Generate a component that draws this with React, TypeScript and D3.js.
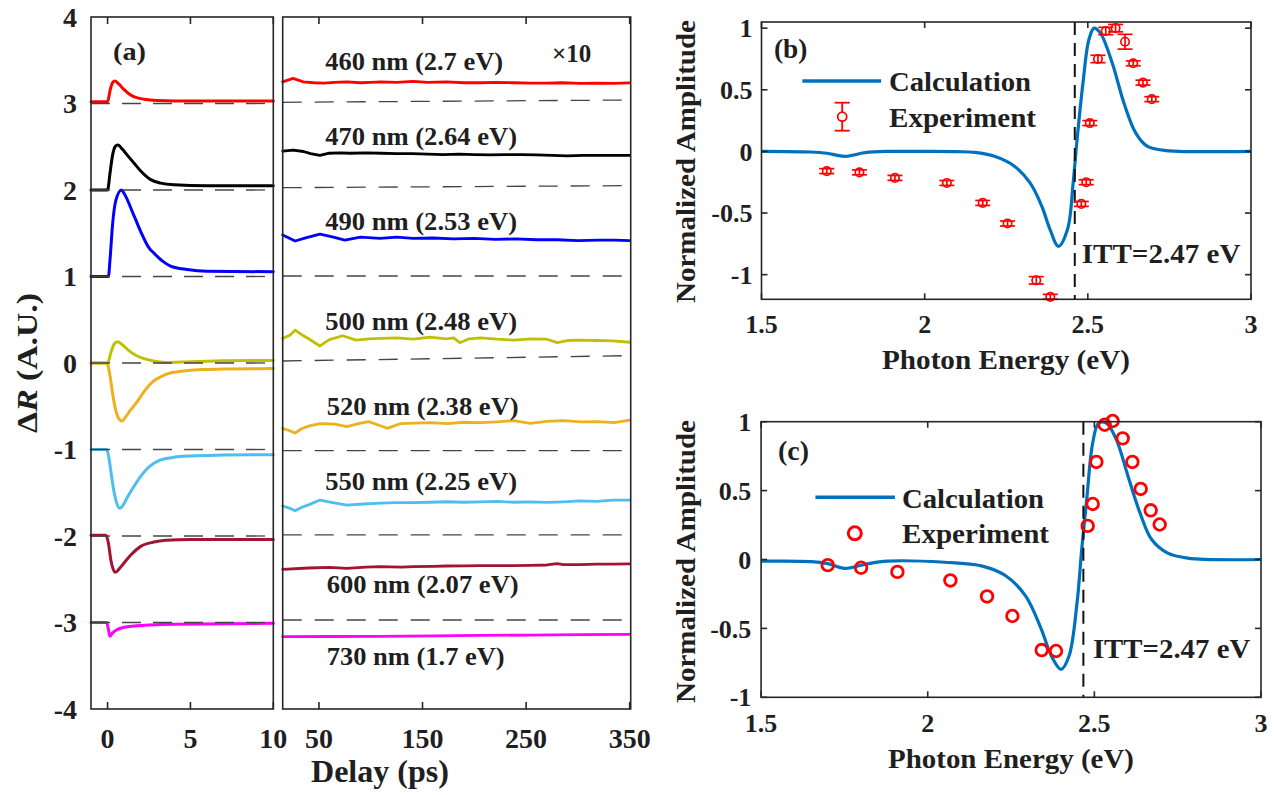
import React from "react";
import * as d3 from "d3";

const FONT = '"Liberation Serif", "Times New Roman", Times, serif';
const INK = "#1f1f1f";
const FRAME = "#262626";

// ---------------- Panel (a) data ----------------
const yTicksA = [4, 3, 2, 1, 0, -1, -2, -3, -4];
const leftTicks = [0, 5, 10];
const rightTicks = [50, 150, 250, 350];
const offsets = [3, 2, 1, 0, -1, -2, -3];
const traceLabels = [
  "460 nm (2.7 eV)",
  "470 nm (2.64 eV)",
  "490 nm (2.53 eV)",
  "500 nm (2.48 eV)",
  "520 nm (2.38 eV)",
  "550 nm (2.25 eV)",
  "600 nm (2.07 eV)",
  "730 nm (1.7 eV)",
];
// label anchor in data units of the right sub-axis (delay ps, ΔR)
const labelT = [56, 56, 56, 56, 57.5, 56, 57.5, 57.5];
const labelV = [3.387, 2.52, 1.538, 0.382, -0.601, -1.468, -2.659, -3.491];
const labelLen = [178, 192, 192, 192, 192, 192, 192, 178];

// left sub-axis traces (0-10 ps)
const tL460 = [-1, 0, 0.15, 0.3, 0.45, 0.7, 1.0, 1.3, 1.7, 2.2, 3, 4, 6, 10];
const vL460 = [3.02, 3.02, 3.15, 3.24, 3.26, 3.22, 3.16, 3.11, 3.07, 3.05, 3.035, 3.03, 3.03, 3.03];
const tL470 = [-1, 0, 0.15, 0.3, 0.45, 0.62, 0.9, 1.2, 1.6, 2.0, 2.6, 3.2, 4, 6, 10];
const vL470 = [2.0, 2.0, 2.2, 2.4, 2.5, 2.52, 2.47, 2.4, 2.31, 2.22, 2.12, 2.08, 2.06, 2.05, 2.05];
const tL490 = [-1, 0.05, 0.15, 0.3, 0.5, 0.84, 1.0, 1.6, 2.0, 2.5, 2.8, 3.3, 3.8, 4.8, 6, 10];
const vL490 = [1.0, 1.0, 1.2, 1.6, 1.88, 2.0, 1.96, 1.7, 1.52, 1.33, 1.27, 1.18, 1.12, 1.08, 1.06, 1.055];
const tL500 = [-1, 0, 0.2, 0.4, 0.6, 0.9, 1.3, 1.7, 2.2, 2.7, 3.5, 5, 7, 10];
const vL500 = [0, 0, 0.12, 0.22, 0.245, 0.21, 0.14, 0.09, 0.05, 0.025, 0.005, 0.015, 0.025, 0.03];
const tL520 = [-1, -0.05, 0.15, 0.3, 0.5, 0.7, 0.88, 1.1, 1.4, 1.7, 2.2, 2.7, 3.2, 3.7, 4.7, 5.7, 7, 10];
const vL520 = [0, 0, -0.15, -0.35, -0.55, -0.65, -0.67, -0.62, -0.54, -0.47, -0.33, -0.22, -0.16, -0.12, -0.09, -0.075, -0.07, -0.065];
const tL550 = [-1, -0.05, 0.1, 0.25, 0.4, 0.55, 0.74, 0.95, 1.2, 1.58, 2.0, 2.4, 2.8, 3.2, 4.0, 5, 7, 10];
const vL550 = [-1, -1, -1.12, -1.32, -1.5, -1.62, -1.68, -1.64, -1.55, -1.43, -1.31, -1.22, -1.16, -1.12, -1.09, -1.075, -1.065, -1.06];
const tL600 = [-1, -0.1, 0.05, 0.2, 0.35, 0.48, 0.7, 1.0, 1.4, 2.0, 2.8, 3.5, 5, 10];
const vL600 = [-1.99, -1.99, -2.08, -2.28, -2.39, -2.42, -2.38, -2.31, -2.22, -2.12, -2.07, -2.05, -2.04, -2.04];
const tL730 = [-1, -0.05, 0.05, 0.14, 0.3, 0.6, 1.0, 1.6, 2.5, 4, 10];
const vL730 = [-3.0, -3.0, -3.08, -3.16, -3.12, -3.08, -3.055, -3.04, -3.03, -3.02, -3.01];

// right sub-axis traces (x10, 15-350 ps)
const tR460 = [15, 20, 25, 30, 35, 45, 55, 65, 77, 90, 100, 110, 125, 141, 155, 173, 190, 206, 220, 237, 255, 270, 285, 302, 318, 334, 350];
const vR460 = [3.25, 3.27, 3.29, 3.27, 3.25, 3.24, 3.235, 3.245, 3.25, 3.24, 3.245, 3.25, 3.245, 3.255, 3.245, 3.25, 3.24, 3.24, 3.245, 3.24, 3.235, 3.235, 3.24, 3.232, 3.235, 3.232, 3.238];
const tR470 = [15, 25, 35, 42, 51, 60, 70, 80, 95, 110, 125, 140, 155, 170, 185, 200, 215, 230, 245, 260, 275, 290, 305, 320, 335, 350];
const vR470 = [2.45, 2.46, 2.445, 2.42, 2.4, 2.425, 2.43, 2.425, 2.43, 2.425, 2.42, 2.42, 2.415, 2.41, 2.415, 2.41, 2.405, 2.41, 2.41, 2.405, 2.4, 2.395, 2.4, 2.4, 2.4, 2.4];
const tR490 = [15, 27, 38, 51, 64, 75, 90, 109, 125, 141, 160, 180, 200, 220, 240, 260, 280, 300, 320, 335, 350];
const vR490 = [1.48, 1.41, 1.45, 1.49, 1.455, 1.42, 1.455, 1.44, 1.455, 1.44, 1.445, 1.435, 1.44, 1.43, 1.435, 1.425, 1.425, 1.415, 1.42, 1.42, 1.415];
const tR500 = [15, 22, 27, 33, 40, 51, 60, 73, 86, 98, 109, 125, 141, 157, 173, 180, 186, 195, 206, 222, 238, 255, 270, 280, 290, 302, 318, 334, 350];
const vR500 = [0.285, 0.32, 0.38, 0.33, 0.28, 0.197, 0.27, 0.315, 0.265, 0.28, 0.285, 0.29, 0.275, 0.3, 0.28, 0.29, 0.235, 0.28, 0.29, 0.275, 0.265, 0.28, 0.275, 0.235, 0.26, 0.265, 0.26, 0.255, 0.24];
const tR520 = [15, 21, 27, 33, 40, 51, 64, 77, 88, 98, 108, 116, 129, 143, 158, 174, 190, 206, 222, 238, 254, 270, 286, 303, 319, 335, 350];
const vR520 = [-0.755, -0.78, -0.81, -0.76, -0.73, -0.7, -0.705, -0.735, -0.7, -0.678, -0.72, -0.755, -0.7, -0.695, -0.69, -0.7, -0.685, -0.69, -0.68, -0.667, -0.697, -0.675, -0.667, -0.68, -0.678, -0.69, -0.66];
const tR550 = [15, 22, 27, 33, 40, 51, 62, 77, 93, 109, 125, 141, 157, 173, 190, 206, 222, 238, 254, 270, 286, 302, 318, 334, 350];
const vR550 = [-1.653, -1.68, -1.707, -1.67, -1.64, -1.584, -1.61, -1.642, -1.63, -1.62, -1.615, -1.615, -1.61, -1.604, -1.61, -1.605, -1.6, -1.61, -1.605, -1.612, -1.605, -1.595, -1.6, -1.585, -1.585];
const tR600 = [15, 40, 60, 77, 95, 109, 130, 141, 160, 173, 190, 206, 222, 238, 254, 270, 280, 286, 302, 318, 334, 350];
const vR600 = [-2.385, -2.37, -2.362, -2.374, -2.36, -2.355, -2.36, -2.355, -2.35, -2.347, -2.345, -2.343, -2.343, -2.343, -2.34, -2.335, -2.32, -2.33, -2.33, -2.325, -2.324, -2.322];
const tR730 = [15, 60, 109, 160, 206, 254, 302, 350];
const vR730 = [-3.164, -3.162, -3.16, -3.155, -3.15, -3.145, -3.14, -3.137];

// reference (zero) lines of the right sub-axis, value at 15 ps and at 350 ps
const rightZeroStart = [3.014, 2.027, 1.006, 0.023, -1.014, -1.988, -2.971];
const rightZeroEnd = [3.04, 2.05, 1.006, 0.085, -1.014, -1.988, -2.971];

const traceColors = ["#FF0000", "#000000", "#0000FF", "#C0C000", "#EDB120", "#4DBEEE", "#A2142F", "#FF00FF"];

// ---------------- Panels (b), (c) data ----------------
const xTicksE = [1.5, 2, 2.5, 3];
const yTicksB = [1, 0.5, 0, -0.5, -1];
const yTicksC = [1, 0.5, 0, -0.5, -1];
const ittB = 2.46;
const ittC = 2.467;

const calcBX = [1.5, 1.65, 1.7, 1.756, 1.817, 1.89, 2.0, 2.1, 2.154, 2.214, 2.275, 2.323, 2.359, 2.384, 2.41, 2.438, 2.455, 2.467, 2.485, 2.503, 2.519, 2.539, 2.575, 2.611, 2.647, 2.683, 2.73, 2.78, 3.0];
const calcBY = [0, -0.005, -0.015, -0.04, -0.01, 0, 0, -0.002, -0.008, -0.04, -0.12, -0.256, -0.445, -0.633, -0.77, -0.63, -0.256, 0.095, 0.553, 0.904, 1.0, 0.958, 0.715, 0.39, 0.149, 0.04, 0.01, 0, 0];
const calcCX = [1.5, 1.65, 1.7, 1.751, 1.81, 1.88, 2.05, 2.164, 2.235, 2.294, 2.341, 2.371, 2.4, 2.424, 2.448, 2.462, 2.477, 2.495, 2.513, 2.536, 2.566, 2.601, 2.637, 2.672, 2.719, 2.78, 3.0];
const calcCY = [-0.012, -0.015, -0.03, -0.065, -0.036, -0.012, -0.02, -0.048, -0.12, -0.266, -0.507, -0.7, -0.797, -0.7, -0.314, 0.072, 0.435, 0.845, 0.99, 0.99, 0.87, 0.604, 0.338, 0.145, 0.048, 0.01, 0.0];

const expX = [1.7, 1.8, 1.909, 2.068, 2.178, 2.254, 2.342, 2.385, 2.48, 2.495, 2.506, 2.531, 2.555, 2.585, 2.614, 2.639, 2.669, 2.696];
const expBY = [-0.16, -0.17, -0.215, -0.256, -0.418, -0.585, -1.046, -1.18, -0.426, -0.25, 0.23, 0.75, 0.977, 1.0, 0.89, 0.715, 0.558, 0.424];
const expBErr = [0.02, 0.02, 0.02, 0.02, 0.02, 0.02, 0.03, 0.02, 0.02, 0.02, 0.02, 0.03, 0.03, 0.03, 0.06, 0.02, 0.02, 0.02];
const expCY = [-0.041, -0.06, -0.09, -0.152, -0.268, -0.41, -0.657, -0.664, 0.244, 0.403, 0.708, 0.978, 1.005, 0.879, 0.708, 0.512, 0.357, 0.254];

const BLUE = "#0072BD";
const RED = "#FF0000";

type TP = {
  x: number;
  y: number;
  size: number;
  anchor?: "start" | "middle" | "end";
  len?: number;
  rot?: boolean;
  dy?: string;
  children: React.ReactNode;
};
const T = ({ x, y, size, anchor = "start", len, rot, dy, children }: TP) => (
  <text
    x={rot ? 0 : x}
    y={rot ? 0 : y}
    transform={rot ? `translate(${x},${y}) rotate(-90)` : undefined}
    fontFamily={FONT}
    fontWeight="bold"
    fontSize={size}
    fill={INK}
    textAnchor={anchor}
    dy={dy}
    textLength={len}
    lengthAdjust={len ? "spacingAndGlyphs" : undefined}
  >
    {children}
  </text>
);

export default function App() {
  // panel (a) scales
  const yA = d3.scaleLinear().domain([-4, 4]).range([709, 17]);
  const xL = d3.scaleLinear().domain([-1, 10]).range([91, 273.3]);
  const xR = d3.scaleLinear().domain([15, 351]).range([282.7, 630.7]);

  const leftT = [tL460, tL470, tL490, tL500, tL520, tL550, tL600, tL730];
  const leftV = [vL460, vL470, vL490, vL500, vL520, vL550, vL600, vL730];
  const rightT = [tR460, tR470, tR490, tR500, tR520, tR550, tR600, tR730];
  const rightV = [vR460, vR470, vR490, vR500, vR520, vR550, vR600, vR730];

  const lineL = d3
    .line<number[]>()
    .x((d) => xL(d[0]))
    .y((d) => yA(d[1]))
    .curve(d3.curveMonotoneX);
  const lineR = d3
    .line<number[]>()
    .x((d) => xR(d[0]))
    .y((d) => yA(d[1]));

  // panel (b) and (c) scales
  const xB = d3.scaleLinear().domain([1.5, 3]).range([761.5, 1251]);
  const yB = d3.scaleLinear().domain([-1.2, 1.05]).range([299.3, 22]);
  const xC = d3.scaleLinear().domain([1.5, 3]).range([761.1, 1261]);
  const yC = d3.scaleLinear().domain([-1, 1]).range([697.3, 421.7]);

  const lineB = d3
    .line<number[]>()
    .x((d) => xB(d[0]))
    .y((d) => yB(d[1]))
    .curve(d3.curveCatmullRom.alpha(0.5));
  const lineC = d3
    .line<number[]>()
    .x((d) => xC(d[0]))
    .y((d) => yC(d[1]))
    .curve(d3.curveCatmullRom.alpha(0.5));

  const tk = 6;

  const frame = (x0: number, x1: number, y0: number, y1: number) => (
    <rect x={x0} y={y0} width={x1 - x0} height={y1 - y0} fill="none" stroke={FRAME} strokeWidth={1.6} />
  );

  return (
    <svg
      width={1278}
      height={795}
      style={{ position: "absolute", left: 0, top: 0, background: "#fff" }}
    >
      <rect x={0} y={0} width={1278} height={795} fill="#fff" />

      {/* ================= Panel (a) ================= */}
      {/* left sub-axis traces */}
      {leftT.map((ts, i) => (
        <path
          key={"l" + i}
          d={lineL(ts.map((t, j) => [t, leftV[i][j]])) || ""}
          fill="none"
          stroke={traceColors[i]}
          strokeWidth={3}
          strokeLinejoin="round"
          strokeLinecap="round"
        />
      ))}
      {offsets.map((o) => (
        <line
          key={"ld" + o}
          x1={xL(-1)}
          x2={xL(10)}
          y1={yA(o)}
          y2={yA(o)}
          stroke="#444"
          strokeWidth={1.3}
          strokeDasharray="19 12"
        />
      ))}
      {/* right sub-axis traces */}
      {rightT.map((ts, i) => (
        <path
          key={"r" + i}
          d={lineR(ts.map((t, j) => [t, rightV[i][j]])) || ""}
          fill="none"
          stroke={traceColors[i]}
          strokeWidth={2.8}
          strokeLinejoin="round"
          strokeLinecap="round"
        />
      ))}
      {rightZeroStart.map((v, i) => (
        <line
          key={"rd" + i}
          x1={xR(15)}
          x2={xR(350)}
          y1={yA(v)}
          y2={yA(rightZeroEnd[i])}
          stroke="#444"
          strokeWidth={1.3}
          strokeDasharray="19 13"
        />
      ))}

      {/* frames and ticks */}
      {frame(xL(-1), xL(10), yA(4), yA(-4))}
      {frame(xR(15), xR(351), yA(4), yA(-4))}
      {leftTicks.map((t) => (
        <g key={"lt" + t}>
          <line x1={xL(t)} x2={xL(t)} y1={yA(-4)} y2={yA(-4) - 7} stroke={FRAME} strokeWidth={1.6} />
          <line x1={xL(t)} x2={xL(t)} y1={yA(4)} y2={yA(4) + 7} stroke={FRAME} strokeWidth={1.6} />
          <T x={xL(t)} y={748} size={28} anchor="middle">
            {String(t)}
          </T>
        </g>
      ))}
      {rightTicks.map((t) => (
        <g key={"rt" + t}>
          <line x1={xR(t)} x2={xR(t)} y1={yA(-4)} y2={yA(-4) - 7} stroke={FRAME} strokeWidth={1.6} />
          <line x1={xR(t)} x2={xR(t)} y1={yA(4)} y2={yA(4) + 7} stroke={FRAME} strokeWidth={1.6} />
          <T x={xR(t)} y={748} size={28} anchor="middle">
            {String(t)}
          </T>
        </g>
      ))}
      {yTicksA.map((v) => (
        <T key={"ya" + v} x={77} y={yA(v)} size={28} anchor="end" dy="0.35em">
          {String(v)}
        </T>
      ))}

      {/* texts */}
      {traceLabels.map((s, i) => (
        <T key={"lab" + i} x={xR(labelT[i])} y={yA(labelV[i])} size={26} len={labelLen[i]}>
          {s}
        </T>
      ))}
      <T x={xR(275)} y={yA(3.48)} size={25}>
        ×10
      </T>
      <T x={xL(0.33)} y={yA(3.5)} size={26} len={33}>
        (a)
      </T>
      <T x={380} y={782} size={31} anchor="middle" len={138}>
        Delay (ps)
      </T>
      <text
        transform="translate(37,363) rotate(-90)"
        fontFamily={FONT}
        fontWeight="bold"
        fontSize={29}
        fill={INK}
        textAnchor="middle"
        textLength={140}
        lengthAdjust="spacingAndGlyphs"
      >
        <tspan>Δ</tspan>
        <tspan fontStyle="italic">R</tspan>
        <tspan> (A.U.)</tspan>
      </text>

      {/* ================= Panel (b) ================= */}
      <path
        d={lineB(calcBX.map((x, i) => [x, calcBY[i]])) || ""}
        fill="none"
        stroke={BLUE}
        strokeWidth={3.2}
        strokeLinejoin="round"
      />
      <line x1={xB(ittB)} x2={xB(ittB)} y1={yB(1.05)} y2={yB(-1.2)} stroke="#111" strokeWidth={2} strokeDasharray="13 8" />
      {expX.map((x, i) => {
        const cx = xB(x);
        const cy = yB(expBY[i]);
        const top = yB(expBY[i] + expBErr[i]);
        const bot = yB(expBY[i] - expBErr[i]);
        return (
          <g key={"eb" + i} stroke={RED} strokeWidth={1.7} fill="none">
            <line x1={cx} x2={cx} y1={top} y2={bot} />
            <line x1={cx - 7.5} x2={cx + 7.5} y1={top} y2={top} />
            <line x1={cx - 7.5} x2={cx + 7.5} y1={bot} y2={bot} />
            <circle cx={cx} cy={cy} r={4.2} />
          </g>
        );
      })}
      {frame(xB(1.5), xB(3), yB(1.05), yB(-1.2))}
      {xTicksE.map((t) => (
        <g key={"bx" + t}>
          <line x1={xB(t)} x2={xB(t)} y1={yB(-1.2)} y2={yB(-1.2) - tk} stroke={FRAME} strokeWidth={1.6} />
          <line x1={xB(t)} x2={xB(t)} y1={yB(1.05)} y2={yB(1.05) + tk} stroke={FRAME} strokeWidth={1.6} />
          <T x={xB(t)} y={333} size={26} anchor="middle">
            {String(t)}
          </T>
        </g>
      ))}
      {yTicksB.map((v) => (
        <g key={"by" + v}>
          <line x1={xB(1.5)} x2={xB(1.5) + tk} y1={yB(v)} y2={yB(v)} stroke={FRAME} strokeWidth={1.6} />
          <line x1={xB(3)} x2={xB(3) - tk} y1={yB(v)} y2={yB(v)} stroke={FRAME} strokeWidth={1.6} />
          <T x={752.5} y={yB(v)} size={26} anchor="end" dy="0.35em">
            {String(v)}
          </T>
        </g>
      ))}
      <T x={774} y={58} size={28} len={33.5}>
        (b)
      </T>
      <line x1={802.4} x2={881.1} y1={81} y2={81} stroke={BLUE} strokeWidth={3.4} />
      <T x={889} y={91} size={28} len={142}>
        Calculation
      </T>
      <g stroke={RED} strokeWidth={1.8} fill="none">
        <line x1={842.2} x2={842.2} y1={102.7} y2={130.7} />
        <line x1={834.7} x2={849.7} y1={102.7} y2={102.7} />
        <line x1={834.7} x2={849.7} y1={130.7} y2={130.7} />
        <circle cx={842.2} cy={116.7} r={4.5} fill="#fff" />
      </g>
      <T x={889} y={126.5} size={28} len={147}>
        Experiment
      </T>
      <T x={1081.8} y={263} size={28} len={158.6}>
        ITT=2.47 eV
      </T>
      <T x={1006} y={369} size={28} anchor="middle" len={248}>
        Photon Energy (eV)
      </T>
      <T x={695} y={161.5} size={28} anchor="middle" len={283} rot>
        Normalized Amplitude
      </T>

      {/* ================= Panel (c) ================= */}
      <path
        d={lineC(calcCX.map((x, i) => [x, calcCY[i]])) || ""}
        fill="none"
        stroke={BLUE}
        strokeWidth={3.2}
        strokeLinejoin="round"
      />
      <line x1={xC(ittC)} x2={xC(ittC)} y1={yC(1)} y2={yC(-1)} stroke="#111" strokeWidth={2} strokeDasharray="13 8" />
      {expX.map((x, i) => (
        <circle key={"ec" + i} cx={xC(x)} cy={yC(expCY[i])} r={5.8} fill="none" stroke={RED} strokeWidth={2.8} />
      ))}
      {frame(xC(1.5), xC(3), yC(1), yC(-1))}
      {xTicksE.map((t) => (
        <g key={"cx" + t}>
          <line x1={xC(t)} x2={xC(t)} y1={yC(-1)} y2={yC(-1) - tk} stroke={FRAME} strokeWidth={1.6} />
          <line x1={xC(t)} x2={xC(t)} y1={yC(1)} y2={yC(1) + tk} stroke={FRAME} strokeWidth={1.6} />
          <T x={xC(t)} y={731.7} size={26} anchor="middle">
            {String(t)}
          </T>
        </g>
      ))}
      {yTicksC.map((v) => (
        <g key={"cy" + v}>
          <line x1={xC(1.5)} x2={xC(1.5) + tk} y1={yC(v)} y2={yC(v)} stroke={FRAME} strokeWidth={1.6} />
          <line x1={xC(3)} x2={xC(3) - tk} y1={yC(v)} y2={yC(v)} stroke={FRAME} strokeWidth={1.6} />
          <T x={751.3} y={yC(v)} size={26} anchor="end" dy="0.35em">
            {String(v)}
          </T>
        </g>
      ))}
      <T x={778} y={460} size={28} len={31}>
        (c)
      </T>
      <line x1={815.4} x2={894.9} y1={497.3} y2={497.3} stroke={BLUE} strokeWidth={3.4} />
      <T x={902} y={508} size={28} len={142}>
        Calculation
      </T>
      <circle cx={854.8} cy={533.3} r={6.5} fill="none" stroke={RED} strokeWidth={3} />
      <T x={902} y={543} size={28} len={147}>
        Experiment
      </T>
      <T x={1092.9} y={658} size={28} len={157.4}>
        ITT=2.47 eV
      </T>
      <T x={1011} y={768} size={28} anchor="middle" len={246}>
        Photon Energy (eV)
      </T>
      <T x={695} y={561.5} size={28} anchor="middle" len={283} rot>
        Normalized Amplitude
      </T>
    </svg>
  );
}
